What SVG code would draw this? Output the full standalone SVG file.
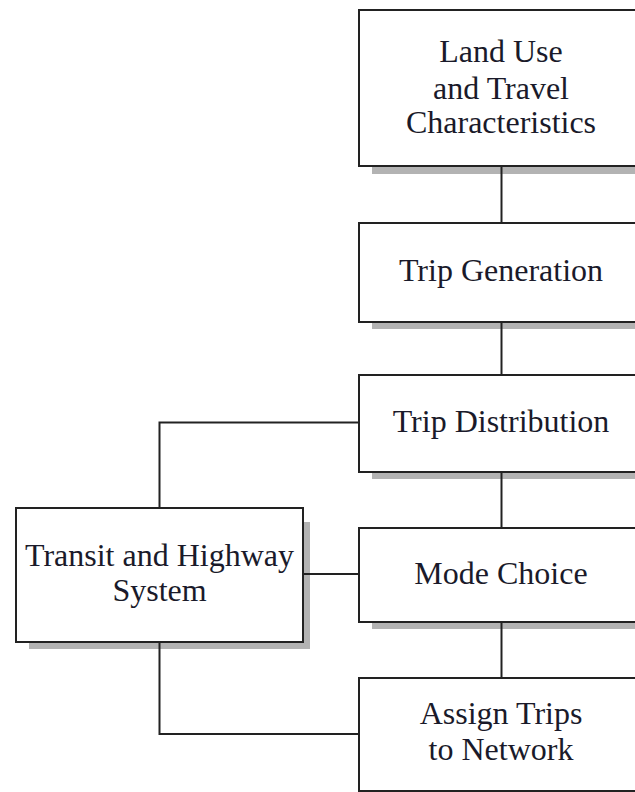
<svg xmlns="http://www.w3.org/2000/svg" width="635" height="792" viewBox="0 0 635 792">
<style>
.box{fill:#fff;stroke:#222;stroke-width:2}
.shadow{fill:#b3b3b3}
.conn{fill:none;stroke:#222;stroke-width:2}
.lbl{font-family:'Liberation Serif','Times New Roman','DejaVu Serif',serif;font-size:32px;fill:#1a1a2a;text-anchor:middle}
</style>
<rect width="635" height="792" fill="#fff"/>
<g id="land-use">
<rect class="shadow" x="372" y="24" width="284" height="150"/>
<rect class="box" x="359" y="10" width="284" height="156"/>
<text class="lbl" x="501" y="62">Land Use</text>
<text class="lbl" x="501" y="99">and Travel</text>
<text class="lbl" x="501" y="133">Characteristics</text>
</g>
<g id="trip-generation">
<rect class="shadow" x="372" y="236" width="284" height="93"/>
<rect class="box" x="359" y="223" width="284" height="99"/>
<text class="lbl" x="501" y="281">Trip Generation</text>
</g>
<g id="trip-distribution">
<rect class="shadow" x="372" y="388" width="284" height="91"/>
<rect class="box" x="359" y="375" width="284" height="97"/>
<text class="lbl" x="501" y="432">Trip Distribution</text>
</g>
<g id="mode-choice">
<rect class="shadow" x="372" y="541" width="284" height="88"/>
<rect class="box" x="359" y="528" width="284" height="94"/>
<text class="lbl" x="501" y="584">Mode Choice</text>
</g>
<g id="assign-trips">
<rect class="box" x="359" y="678" width="284" height="113"/>
<text class="lbl" x="501" y="724">Assign Trips</text>
<text class="lbl" x="501" y="760">to Network</text>
</g>
<g id="transit-highway">
<rect class="shadow" x="29" y="522" width="281" height="127"/>
<rect class="box" x="16" y="508" width="287" height="134"/>
<text class="lbl" x="159.5" y="566">Transit and Highway</text>
<text class="lbl" x="159.5" y="601">System</text>
</g>
<g id="connectors">
<line class="conn" x1="501.5" y1="167" x2="501.5" y2="222"/>
<line class="conn" x1="501.5" y1="323" x2="501.5" y2="374"/>
<line class="conn" x1="501.5" y1="473" x2="501.5" y2="527"/>
<line class="conn" x1="501.5" y1="623" x2="501.5" y2="677"/>
<polyline class="conn" points="159.5,507 159.5,422.5 358,422.5"/>
<line class="conn" x1="304" y1="574" x2="358" y2="574"/>
<polyline class="conn" points="159.5,643 159.5,734 358,734"/>
</g>
</svg>
